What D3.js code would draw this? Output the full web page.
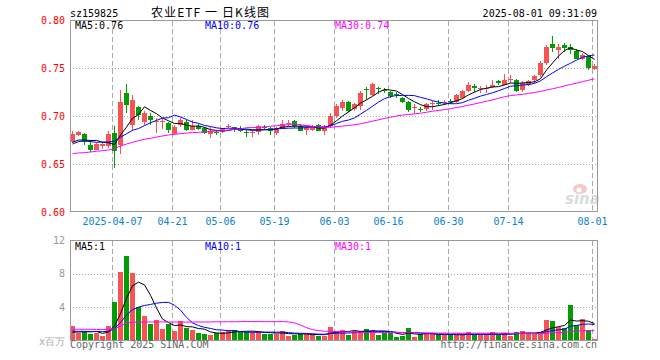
<!DOCTYPE html>
<html>
<head>
<meta charset="utf-8">
<script src="https://cdn.jsdelivr.net/npm/d3@7"></script>
<style>
	body { margin: 0; background: #fff; }
	text { font-family: "DejaVu Sans Mono", monospace; font-size: 10px; }
</style>
</head>
<body>
<svg class="kline"></svg>
<script>
// trading days shown
var dates = [
	"2025-03-26","2025-03-27","2025-03-28","2025-03-31","2025-04-01","2025-04-02","2025-04-03",
	"2025-04-07","2025-04-08","2025-04-09","2025-04-10","2025-04-11",
	"2025-04-14","2025-04-15","2025-04-16","2025-04-17","2025-04-18",
	"2025-04-21","2025-04-22","2025-04-23","2025-04-24","2025-04-25",
	"2025-04-28","2025-04-29","2025-04-30",
	"2025-05-06","2025-05-07","2025-05-08","2025-05-09",
	"2025-05-12","2025-05-13","2025-05-14","2025-05-15","2025-05-16",
	"2025-05-19","2025-05-20","2025-05-21","2025-05-22","2025-05-23",
	"2025-05-26","2025-05-27","2025-05-28","2025-05-29","2025-05-30",
	"2025-06-03","2025-06-04","2025-06-05","2025-06-06",
	"2025-06-09","2025-06-10","2025-06-11","2025-06-12","2025-06-13",
	"2025-06-16","2025-06-17","2025-06-18","2025-06-19","2025-06-20",
	"2025-06-23","2025-06-24","2025-06-25","2025-06-26","2025-06-27",
	"2025-06-30","2025-07-01","2025-07-02","2025-07-03","2025-07-04",
	"2025-07-07","2025-07-08","2025-07-09","2025-07-10","2025-07-11",
	"2025-07-14","2025-07-15","2025-07-16","2025-07-17","2025-07-18",
	"2025-07-21","2025-07-22","2025-07-23","2025-07-24","2025-07-25",
	"2025-07-28","2025-07-29","2025-07-30","2025-07-31","2025-08-01"
];

var tickDates = ["2025-04-07","2025-04-21","2025-05-06","2025-05-19","2025-06-03","2025-06-16","2025-06-30","2025-07-14","2025-08-01"];
var tickLabels = ["2025-04-07","04-21","05-06","05-19","06-03","06-16","06-30","07-14","08-01"];

var open = [0.673,0.680,0.681,0.670,0.665,0.669,0.669,0.682,0.670,0.724,0.691,0.709,0.694,0.700,0.694,0.694,0.693,0.682,0.691,0.694,0.686,0.690,0.687,0.681,0.683,0.683,0.689,0.689,0.688,0.683,0.682,0.684,0.689,0.688,0.682,0.687,0.692,0.695,0.690,0.685,0.686,0.691,0.685,0.690,0.700,0.709,0.715,0.707,0.710,0.728,0.722,0.729,0.727,0.725,0.723,0.719,0.715,0.708,0.707,0.707,0.713,0.714,0.714,0.716,0.715,0.719,0.726,0.731,0.728,0.728,0.730,0.736,0.733,0.738,0.738,0.727,0.732,0.738,0.742,0.755,0.775,0.769,0.774,0.772,0.768,0.760,0.762,0.749];
var high = [0.684,0.684,0.682,0.675,0.672,0.673,0.684,0.690,0.727,0.733,0.722,0.710,0.705,0.703,0.698,0.697,0.694,0.691,0.698,0.696,0.696,0.692,0.689,0.689,0.685,0.688,0.692,0.689,0.690,0.685,0.685,0.691,0.691,0.689,0.689,0.696,0.696,0.696,0.692,0.689,0.691,0.692,0.691,0.703,0.712,0.717,0.716,0.714,0.726,0.730,0.734,0.730,0.729,0.726,0.725,0.720,0.716,0.712,0.709,0.714,0.716,0.717,0.717,0.718,0.723,0.727,0.735,0.733,0.731,0.732,0.737,0.738,0.744,0.743,0.739,0.736,0.737,0.743,0.757,0.774,0.783,0.775,0.776,0.775,0.770,0.766,0.764,0.754];
var low = [0.672,0.679,0.670,0.662,0.665,0.666,0.667,0.646,0.660,0.703,0.684,0.696,0.691,0.691,0.682,0.686,0.682,0.681,0.689,0.684,0.685,0.685,0.681,0.677,0.680,0.682,0.687,0.683,0.683,0.678,0.678,0.680,0.685,0.680,0.680,0.686,0.690,0.687,0.684,0.680,0.684,0.684,0.680,0.688,0.698,0.705,0.704,0.705,0.706,0.717,0.721,0.723,0.724,0.719,0.719,0.714,0.704,0.702,0.704,0.705,0.706,0.710,0.711,0.713,0.714,0.718,0.725,0.725,0.724,0.724,0.729,0.732,0.732,0.734,0.725,0.725,0.731,0.734,0.741,0.753,0.767,0.759,0.767,0.765,0.759,0.758,0.748,0.748];
var close = [0.681,0.683,0.673,0.665,0.671,0.671,0.681,0.663,0.715,0.712,0.717,0.701,0.703,0.696,0.695,0.695,0.686,0.689,0.696,0.686,0.690,0.687,0.682,0.684,0.682,0.687,0.690,0.688,0.685,0.682,0.683,0.690,0.688,0.685,0.687,0.692,0.693,0.690,0.685,0.687,0.690,0.685,0.690,0.700,0.710,0.715,0.706,0.712,0.724,0.727,0.733,0.728,0.726,0.721,0.722,0.715,0.707,0.709,0.706,0.712,0.714,0.713,0.715,0.715,0.722,0.726,0.732,0.729,0.729,0.729,0.732,0.734,0.738,0.739,0.727,0.734,0.736,0.742,0.755,0.772,0.771,0.772,0.771,0.769,0.760,0.764,0.750,0.752];

// volume, millions
var volume = [1.79,0.96,1.0,0.8,0.88,0.6,1.79,4.62,8.2,10.1,8.1,4.0,2.95,2.0,2.47,1.4,1.95,1.16,2.35,1.47,1.27,0.92,0.8,0.68,0.88,1.0,1.27,1.27,1.0,1.0,1.08,1.0,0.8,0.8,0.76,1.16,0.6,0.68,0.76,0.76,0.76,0.6,0.6,1.67,1.2,1.27,0.68,1.16,1.16,1.4,1.27,0.68,0.96,0.96,0.44,0.6,1.51,0.44,0.76,0.8,0.8,0.68,0.68,0.68,0.68,0.68,1.04,0.68,0.68,0.68,1.04,0.68,0.88,0.6,1.04,1.16,0.88,0.8,1.04,2.47,2.35,1.63,1.55,4.26,1.87,2.59,1.27,0.2];

// moving average values on the first days (they depend on days before the window)
var ma5Head = [0.6725,0.675,0.675,0.6745];
var ma10Head = [0.6708,0.6733,0.674,0.6733,0.6726,0.6729,0.6729,0.6738,0.678];
var ma30Head = [0.6608,0.6615,0.6618,0.6625,0.6632,0.6639,0.6646,0.666,0.6688,0.6708,0.6726,0.6743,0.6757,0.6767,0.6781,0.6792,0.6802,0.6809,0.6816,0.6823,0.6826,0.683,0.6833,0.684,0.6844,0.6847,0.6854,0.6861,0.6865];
var volMa5Head = [1.0,1.02,1.05,1.05];
var volMa10Head = [1.12,1.1,1.1,1.08,1.08,1.06,1.1,1.42,2.16];
var volMa30Head = [1.35,1.35,1.35,1.34,1.33,1.32,1.33,1.4,1.75,2.1,2.19,2.2,2.22,2.22,2.22,2.23,2.22,2.22,2.21,2.21,2.22,2.22,2.22,2.23,2.24,2.24,2.25,2.25,2.26];

var priceTicks = [0.60,0.65,0.70,0.75,0.80];
var volTicks = [4,8,12];
var priceMaLabels = ["MA5:0.76","MA10:0.76","MA30:0.74"];
var volMaLabels = ["MA5:1","MA10:1","MA30:1"];
var maColors = ["#000000","#0000ff","#ff00ff"];

var width = 660, height = 360;
var left = 70, right = 597.5;
var red = "#f65454", green = "#049c04", grid = "#aaaaaa";

var svg = d3.select(".kline")
	.attr("width", width)
	.attr("height", height);

var x = d3.scaleBand()
	.domain(dates)
	.range([69.5, 597.5])
	.paddingInner(1 / 6)
	.paddingOuter(1 / 12);
var bw = x.bandwidth();

var y = d3.scaleLinear().domain([0.60, 0.80]).range([212, 20]);
var yv = d3.scaleLinear().domain([0, 12]).range([340.5, 240.5]);

function movingAvg(values, n, head) {
	return values.map(function(v, i) {
		if (i < head.length) return head[i];
		return d3.mean(values.slice(i - n + 1, i + 1));
	});
}

var days = dates.map(function(d, i) {
	return { date: d, o: open[i], h: high[i], l: low[i], c: close[i], v: volume[i] };
});
function col(d) { return d.c >= d.o ? red : green; }

var priceMa = [movingAvg(close, 5, ma5Head), movingAvg(close, 10, ma10Head), movingAvg(close, 30, ma30Head)];
var volMa = [movingAvg(volume, 5, volMa5Head), movingAvg(volume, 10, volMa10Head), movingAvg(volume, 30, volMa30Head)];

// grid
var gridG = svg.append("g").attr("shape-rendering", "crispEdges");
gridG.selectAll(".hgrid")
	.data([0.65, 0.70, 0.75])
	.enter().append("line")
		.attr("x1", left).attr("x2", right)
		.attr("y1", function(d) { return Math.round(y(d)) + 0.5; })
		.attr("y2", function(d) { return Math.round(y(d)) + 0.5; })
		.attr("stroke", grid).attr("stroke-dasharray", "1,2");
gridG.selectAll(".vhgrid")
	.data([4, 8])
	.enter().append("line")
		.attr("x1", left).attr("x2", right)
		.attr("y1", function(d) { return Math.round(yv(d)) + 0.5; })
		.attr("y2", function(d) { return Math.round(yv(d)) + 0.5; })
		.attr("stroke", grid).attr("stroke-dasharray", "1,2");
[[20.5, 211.5], [240.5, 340.5]].forEach(function(r) {
	gridG.selectAll(null)
		.data(tickDates)
		.enter().append("line")
			.attr("x1", function(d) { return x(d) + 0.5; })
			.attr("x2", function(d) { return x(d) + 0.5; })
			.attr("y1", r[0]).attr("y2", r[1])
			.attr("stroke", grid).attr("stroke-dasharray", "5,3");
});

// sina watermark
var wm = svg.append("g").attr("opacity", 0.75);
wm.append("ellipse").attr("cx", 580).attr("cy", 189).attr("rx", 7).attr("ry", 5).attr("fill", "#f3b8b8");
wm.append("circle").attr("cx", 579).attr("cy", 190).attr("r", 2.5).attr("fill", "#fff");
wm.append("text").attr("x", 565).attr("y", 204)
	.style("font-family", "'DejaVu Sans', sans-serif")
	.style("font-size", "15px").style("font-weight", "bold").style("font-style", "italic")
	.attr("fill", "#cfcfcf").text("sina");

// candles
var candle = svg.append("g").attr("shape-rendering", "crispEdges")
	.selectAll("g")
	.data(days)
	.enter().append("g");
candle.append("line")
	.attr("x1", function(d) { return x(d.date) + 2.5; })
	.attr("x2", function(d) { return x(d.date) + 2.5; })
	.attr("y1", function(d) { return y(d.h); })
	.attr("y2", function(d) { return y(d.l); })
	.attr("stroke", col);
candle.append("rect")
	.attr("x", function(d) { return x(d.date); })
	.attr("width", bw)
	.attr("y", function(d) { return Math.round(y(Math.max(d.o, d.c))); })
	.attr("height", function(d) { return Math.max(1, Math.round(Math.abs(y(d.o) - y(d.c)))); })
	.attr("fill", col);

// volume bars
svg.append("g").attr("shape-rendering", "crispEdges")
	.selectAll("rect")
	.data(days)
	.enter().append("rect")
		.attr("x", function(d) { return x(d.date); })
		.attr("width", bw)
		.attr("y", function(d) { return yv(d.v); })
		.attr("height", function(d) { return yv(0) - yv(d.v); })
		.attr("fill", col);

// moving averages
function drawMa(series, scale) {
	series.forEach(function(vals, k) {
		var line = d3.line()
			.x(function(v, i) { return x(dates[i]) + 2.5; })
			.y(function(v) { return scale(v); });
		svg.append("path")
			.attr("d", line(vals))
			.attr("fill", "none")
			.attr("stroke", maColors[k])
			.attr("stroke-width", 1);
	});
}
drawMa(priceMa, y);
drawMa(volMa, yv);

// frames
svg.append("rect").attr("x", 70.5).attr("y", 20.5).attr("width", right - 70.5).attr("height", 191)
	.attr("fill", "none").attr("stroke", "#999").attr("shape-rendering", "crispEdges");
svg.append("rect").attr("x", 70.5).attr("y", 240.5).attr("width", right - 70.5).attr("height", 100)
	.attr("fill", "none").attr("stroke", "#999").attr("shape-rendering", "crispEdges");

// axis labels
svg.selectAll(".plabel")
	.data(priceTicks)
	.enter().append("text")
		.attr("x", 65).attr("y", function(d) { return y(d); })
		.attr("dy", "0.35em").attr("text-anchor", "end")
		.attr("fill", "#ff0000")
		.text(function(d) { return d3.format(".2f")(d); });
svg.selectAll(".vlabel")
	.data(volTicks)
	.enter().append("text")
		.attr("x", 65).attr("y", function(d) { return yv(d); })
		.attr("dy", "0.35em").attr("text-anchor", "end")
		.attr("fill", "#999")
		.text(function(d) { return d; });
svg.append("text").attr("x", 65).attr("y", 341).attr("dy", "0.35em")
	.attr("text-anchor", "end").attr("fill", "#aaa").text("x百万");
svg.selectAll(".xlabel")
	.data(tickDates)
	.enter().append("text")
		.attr("x", function(d) { return x(d) + 0.5; })
		.attr("y", 225)
		.attr("text-anchor", "middle")
		.attr("fill", "#0a7fd0")
		.text(function(d, i) { return tickLabels[i]; });

// legends
var legendX = [75, 205, 335];
priceMaLabels.forEach(function(t, k) {
	svg.append("text").attr("x", legendX[k]).attr("y", 29).attr("fill", maColors[k]).text(t);
});
volMaLabels.forEach(function(t, k) {
	svg.append("text").attr("x", legendX[k]).attr("y", 250).attr("fill", maColors[k]).text(t);
});

// titles
svg.append("text").attr("x", 70).attr("y", 17).attr("fill", "#000").text("sz159825");
svg.append("text").attr("x", 151).attr("y", 17)
	.style("font-family", "'Noto Sans CJK SC', sans-serif").style("font-size", "12px")
	.attr("textLength", 118).attr("lengthAdjust", "spacing")
	.attr("fill", "#000").text("农业ETF 一 日K线图");
svg.append("text").attr("x", 597).attr("y", 17).attr("text-anchor", "end")
	.attr("fill", "#000").text("2025-08-01 09:31:09");
svg.append("text").attr("x", 70).attr("y", 348).attr("fill", "#666").text("Copyright 2025 SINA.COM");
svg.append("text").attr("x", 597).attr("y", 348).attr("text-anchor", "end").attr("fill", "#666").text("http://finance.sina.com.cn");
</script>
</body>
</html>
